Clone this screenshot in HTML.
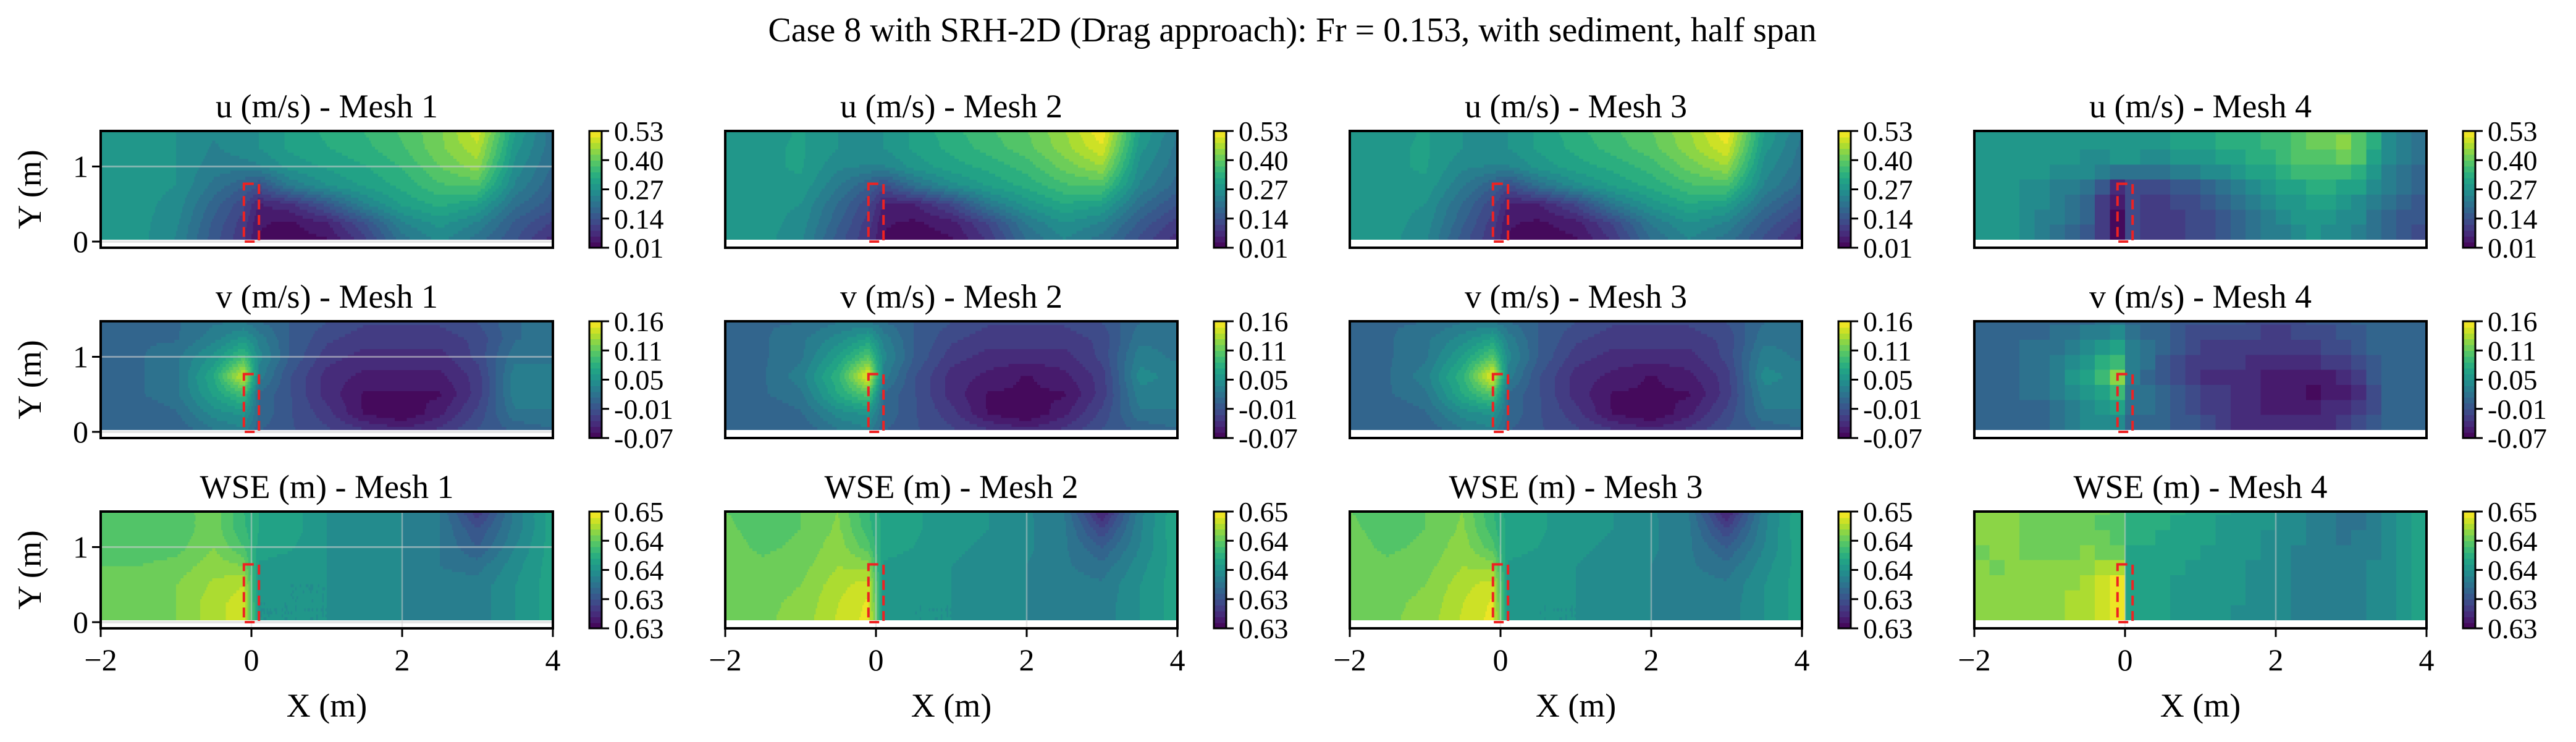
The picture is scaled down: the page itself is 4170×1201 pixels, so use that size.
<!DOCTYPE html>
<html><head><meta charset="utf-8">
<style>
html,body{margin:0;padding:0;background:#fff;}
svg{display:block;}
text{font-family:"Liberation Serif","DejaVu Serif",serif;fill:#000;}
</style></head>
<body>
<svg id="fig" width="4170" height="1201" viewBox="0 0 4170 1201" xmlns="http://www.w3.org/2000/svg">
<text x="2092" y="67" font-size="56" text-anchor="middle">Case 8 with SRH-2D (Drag approach): Fr = 0.153, with sediment, half span</text>
</svg>
<script>
// grid nodes (m): columns at these x, rows listed from y=1.5 down to y=0 step 0.25
const gridX = [-2,-1.5,-1,-0.5,-0.1,0.1,0.5,1,1.5,2,2.5,3,3.5,4];
const gridY = [1.5,1.25,1.0,0.75,0.5,0.25,0];
const uTicks = ["0.53","0.40","0.27","0.14","0.01"];
const vTicks = ["0.16","0.11","0.05","-0.01","-0.07"];
const wTicks = ["0.65","0.64","0.64","0.63","0.63"];
const uRange = [0.01,0.53];
const vRange = [-0.07,0.163];
const wRange = [0.628,0.648];
const xTickVals = [-2,0,2,4];
const xTickLabels = ["\u22122","0","2","4"];
const yTickVals = [0,1];
const meshNames = ["Mesh 1","Mesh 2","Mesh 3","Mesh 4"];

const u_mesh1 = [
[.28,.28,.27,.25,.26,.27,.30,.33,.35,.38,.42,.50,.30,.20],
[.28,.28,.27,.24,.26,.27,.30,.32,.34,.37,.42,.47,.28,.20],
[.28,.28,.27,.23,.23,.24,.28,.30,.32,.35,.40,.44,.26,.19],
[.28,.28,.27,.21,.17,.14,.22,.27,.30,.33,.37,.38,.24,.17],
[.28,.28,.26,.18,.12,.06,.08,.15,.24,.30,.33,.30,.20,.15],
[.28,.28,.25,.16,.10,.04,.03,.06,.14,.24,.28,.24,.16,.11],
[.28,.28,.24,.15,.09,.03,.02,.03,.10,.20,.25,.20,.14,.07]];
const u_mesh2 = [
[.28,.28,.30,.27,.26,.27,.30,.34,.37,.40,.45,.53,.30,.22],
[.28,.29,.30,.27,.26,.27,.30,.33,.36,.39,.44,.50,.28,.21],
[.28,.29,.30,.25,.24,.24,.28,.31,.33,.36,.41,.45,.26,.20],
[.28,.29,.29,.22,.17,.13,.20,.26,.30,.33,.37,.38,.24,.18],
[.28,.28,.27,.19,.12,.06,.06,.12,.22,.28,.32,.30,.20,.14],
[.28,.28,.26,.17,.10,.04,.03,.05,.12,.22,.27,.24,.16,.10],
[.28,.28,.25,.15,.09,.03,.02,.03,.09,.19,.24,.20,.13,.07]];
const u_mesh3 = [
[.28,.28,.30,.27,.26,.27,.30,.34,.37,.40,.45,.53,.30,.22],
[.28,.29,.30,.27,.26,.27,.30,.33,.36,.39,.44,.50,.28,.21],
[.28,.29,.30,.25,.24,.24,.28,.31,.33,.36,.41,.45,.26,.20],
[.28,.29,.29,.22,.17,.13,.20,.26,.30,.33,.37,.38,.24,.18],
[.28,.28,.27,.19,.12,.06,.06,.12,.22,.28,.32,.30,.20,.14],
[.28,.28,.26,.17,.10,.04,.03,.05,.12,.22,.27,.24,.16,.10],
[.28,.28,.25,.15,.09,.03,.02,.03,.09,.19,.24,.20,.13,.07]];
const u_mesh4 = [
[.28,.29,.29,.27,.29,.29,.29,.31,.33,.36,.40,.42,.26,.20],
[.28,.29,.29,.27,.29,.29,.29,.31,.33,.36,.40,.44,.26,.20],
[.28,.29,.28,.26,.25,.25,.24,.27,.30,.34,.38,.38,.25,.18],
[.28,.28,.25,.22,.08,.12,.12,.18,.24,.30,.34,.32,.22,.16],
[.28,.28,.24,.18,.03,.12,.10,.14,.20,.26,.30,.28,.20,.14],
[.28,.27,.23,.16,.03,.12,.10,.12,.18,.24,.28,.25,.18,.13],
[.28,.27,.22,.15,.03,.12,.10,.12,.17,.22,.26,.24,.17,.13]];

const v_mesh1 = [
[.01,.01,.01,.02,.02,.01,.00,-.01,-.02,-.02,-.02,-.01,.01,.02],
[.01,.01,.01,.03,.05,.03,.00,-.02,-.03,-.03,-.03,-.02,.01,.02],
[.01,.01,.02,.05,.09,.04,.00,-.03,-.04,-.04,-.04,-.02,.02,.02],
[.01,.01,.02,.07,.15,.03,-.01,-.04,-.05,-.05,-.05,-.03,.03,.03],
[.01,.01,.02,.06,.09,.01,-.01,-.04,-.06,-.06,-.06,-.03,.03,.03],
[.00,.00,.01,.04,.05,.01,-.01,-.03,-.06,-.07,-.05,-.02,.02,.02],
[.00,.00,.00,.02,.03,.00,-.01,-.02,-.03,-.04,-.03,-.01,.00,.01]];
const v_mesh2 = [
[.01,.01,.01,.02,.02,.01,.00,-.01,-.02,-.02,-.02,-.01,.01,.02],
[.01,.01,.02,.04,.06,.03,.00,-.02,-.03,-.03,-.03,-.02,.02,.02],
[.01,.01,.02,.06,.10,.04,.00,-.03,-.04,-.04,-.04,-.02,.03,.02],
[.01,.01,.03,.08,.16,.03,-.01,-.04,-.05,-.06,-.05,-.03,.04,.03],
[.01,.01,.02,.07,.10,.01,-.01,-.04,-.06,-.06,-.06,-.03,.03,.03],
[.00,.00,.01,.04,.05,.01,-.01,-.03,-.06,-.07,-.05,-.02,.02,.02],
[.00,.00,.00,.02,.03,.00,-.01,-.02,-.03,-.04,-.03,-.01,.00,.01]];
const v_mesh3 = [
[.01,.01,.01,.02,.02,.01,.00,-.01,-.02,-.02,-.02,-.01,.01,.02],
[.01,.01,.02,.04,.06,.03,.00,-.02,-.03,-.03,-.03,-.02,.02,.02],
[.01,.01,.02,.06,.10,.04,.00,-.03,-.04,-.04,-.04,-.02,.03,.02],
[.01,.01,.03,.08,.16,.03,-.01,-.04,-.05,-.06,-.05,-.03,.04,.03],
[.01,.01,.02,.07,.10,.01,-.01,-.04,-.06,-.06,-.06,-.03,.03,.03],
[.00,.00,.01,.04,.05,.01,-.01,-.03,-.06,-.07,-.05,-.02,.02,.02],
[.00,.00,.00,.02,.03,.00,-.01,-.02,-.03,-.04,-.03,-.01,.00,.01]];
const v_mesh4 = [
[.01,.01,.01,.01,.02,.01,.00,-.01,-.01,-.02,-.01,.00,.01,.01],
[.01,.01,.01,.03,.05,.02,.00,-.02,-.02,-.03,-.02,-.01,.01,.01],
[.01,.01,.02,.05,.08,.03,.00,-.03,-.03,-.04,-.03,-.02,.01,.01],
[.01,.01,.02,.07,.12,.03,-.01,-.04,-.04,-.05,-.05,-.04,.01,.01],
[.01,.01,.02,.05,.08,.02,.01,-.02,-.04,-.05,-.06,-.05,.00,.01],
[.00,.00,.01,.04,.05,.01,.01,-.02,-.04,-.05,-.05,-.03,.00,.01],
[.00,.00,.01,.03,.03,.01,.00,-.01,-.03,-.04,-.04,-.02,.00,.01]];

const w_mesh1 = [
[.6424,.6424,.6424,.6436,.6410,.6400,.6396,.6380,.6376,.6370,.6360,.6310,.6364,.6396],
[.6424,.6424,.6424,.6436,.6412,.6400,.6396,.6380,.6376,.6370,.6360,.6330,.6364,.6396],
[.6424,.6424,.6426,.6440,.6420,.6396,.6392,.6380,.6376,.6370,.6360,.6340,.6370,.6396],
[.6430,.6430,.6434,.6446,.6440,.6388,.6384,.6380,.6376,.6370,.6360,.6356,.6376,.6396],
[.6436,.6436,.6440,.6452,.6460,.6382,.6380,.6380,.6376,.6370,.6364,.6364,.6380,.6396],
[.6436,.6436,.6440,.6456,.6466,.6380,.6380,.6380,.6376,.6370,.6364,.6364,.6380,.6396],
[.6436,.6436,.6440,.6456,.6466,.6380,.6380,.6380,.6376,.6370,.6364,.6364,.6380,.6396]];
const w_mesh2 = [
[.6430,.6426,.6430,.6440,.6410,.6396,.6392,.6384,.6380,.6372,.6360,.6295,.6366,.6400],
[.6432,.6426,.6430,.6442,.6414,.6396,.6392,.6384,.6380,.6372,.6362,.6320,.6368,.6400],
[.6434,.6428,.6432,.6446,.6424,.6394,.6390,.6382,.6378,.6372,.6362,.6340,.6370,.6398],
[.6436,.6432,.6436,.6450,.6446,.6388,.6386,.6380,.6376,.6370,.6362,.6354,.6376,.6396],
[.6438,.6436,.6440,.6456,.6466,.6384,.6382,.6380,.6376,.6370,.6364,.6362,.6380,.6396],
[.6438,.6438,.6442,.6460,.6472,.6382,.6380,.6380,.6376,.6370,.6364,.6364,.6380,.6396],
[.6438,.6438,.6444,.6462,.6474,.6382,.6380,.6380,.6376,.6370,.6364,.6364,.6380,.6396]];
const w_mesh3 = [
[.6430,.6426,.6430,.6440,.6410,.6396,.6392,.6384,.6380,.6372,.6360,.6295,.6366,.6400],
[.6432,.6426,.6430,.6442,.6414,.6396,.6392,.6384,.6380,.6372,.6362,.6320,.6368,.6400],
[.6434,.6428,.6432,.6446,.6424,.6394,.6390,.6382,.6378,.6372,.6362,.6340,.6370,.6398],
[.6436,.6432,.6436,.6450,.6446,.6388,.6386,.6380,.6376,.6370,.6362,.6354,.6376,.6396],
[.6438,.6436,.6440,.6456,.6466,.6384,.6382,.6380,.6376,.6370,.6364,.6362,.6380,.6396],
[.6438,.6438,.6442,.6460,.6472,.6382,.6380,.6380,.6376,.6370,.6364,.6364,.6380,.6396],
[.6438,.6438,.6444,.6462,.6474,.6382,.6380,.6380,.6376,.6370,.6364,.6364,.6380,.6396]];
const w_mesh4 = [
[.6440,.6440,.6436,.6434,.6426,.6408,.6404,.6396,.6388,.6380,.6368,.6356,.6372,.6400],
[.6440,.6440,.6436,.6434,.6426,.6406,.6400,.6394,.6386,.6378,.6366,.6356,.6372,.6400],
[.6440,.6440,.6438,.6438,.6430,.6400,.6396,.6390,.6384,.6376,.6366,.6360,.6374,.6398],
[.6440,.6440,.6440,.6446,.6456,.6394,.6392,.6388,.6382,.6374,.6366,.6364,.6376,.6396],
[.6440,.6440,.6442,.6456,.6476,.6392,.6390,.6386,.6380,.6372,.6366,.6366,.6378,.6396],
[.6440,.6440,.6444,.6458,.6478,.6392,.6390,.6386,.6380,.6372,.6366,.6366,.6378,.6396],
[.6440,.6440,.6444,.6458,.6478,.6392,.6390,.6386,.6380,.6372,.6366,.6366,.6378,.6396]];

const NS = "http://www.w3.org/2000/svg";
const svg = document.getElementById('fig');
const colLeft = [163,1174,2185,3196];
const rowTop = [212,520,828];
const AW = 732, AH = 189;
const XMIN = -2, XMAX = 4, YMIN = -0.082, YMAX = 1.473;
const DATA_YMIN = 0.03;
const NLEV = 20;
const VIR = ["#440154","#482475","#414487","#355f8d","#2a788e","#21918c","#22a884","#44bf70","#7ad151","#bddf26","#fde725"];
function hex(c){return [parseInt(c.substr(1,2),16),parseInt(c.substr(3,2),16),parseInt(c.substr(5,2),16)];}
const VIRRGB = VIR.map(hex);
function viridis(t){t=Math.max(0,Math.min(1,t));const p=t*10;const i=Math.min(9,Math.floor(p));const f=p-i;const a=VIRRGB[i],b=VIRRGB[i+1];
 return "rgb("+Math.round(a[0]+(b[0]-a[0])*f)+","+Math.round(a[1]+(b[1]-a[1])*f)+","+Math.round(a[2]+(b[2]-a[2])*f)+")";}
const levelColors = [];
for(let k=0;k<NLEV;k++) levelColors.push(viridis((k+0.5)/NLEV));
function el(tag,attrs,parent){const e=document.createElementNS(NS,tag);for(const k in attrs)e.setAttribute(k,attrs[k]);(parent||svg).appendChild(e);return e;}
function sample(grid,x,y){
  x=Math.max(gridX[0],Math.min(gridX[gridX.length-1],x));
  let i=0; while(i<gridX.length-2 && x>gridX[i+1]) i++;
  const a=(x-gridX[i])/(gridX[i+1]-gridX[i]);
  let fy=(gridY[0]-y)/(gridY[0]-gridY[1]);fy=Math.max(0,Math.min(gridY.length-1.0001,fy));
  const j=Math.floor(fy),b=fy-j;
  return grid[j][i]*(1-a)*(1-b)+grid[j][i+1]*a*(1-b)+grid[j+1][i]*(1-a)*b+grid[j+1][i+1]*a*b;
}
function level(v,r){let k=Math.floor((v-r[0])/(r[1]-r[0])*NLEV);return Math.max(0,Math.min(NLEV-1,k));}

const panels = [
 {name:"u (m/s)",grids:[u_mesh1,u_mesh2,u_mesh3,u_mesh4],range:uRange,ticks:uTicks,key:"u"},
 {name:"v (m/s)",grids:[v_mesh1,v_mesh2,v_mesh3,v_mesh4],range:vRange,ticks:vTicks,key:"v"},
 {name:"WSE (m)",grids:[w_mesh1,w_mesh2,w_mesh3,w_mesh4],range:wRange,ticks:wTicks,key:"wse"}];

panels.forEach((P,r)=>{
  for(let c=0;c<4;c++){
    const L=colLeft[c],T=rowTop[r];
    const sx=x=>L+(x-XMIN)/(XMAX-XMIN)*AW;
    const sy=y=>T+(YMAX-y)/(YMAX-YMIN)*AH;
    const g=el('g',{});
    
    
    const cid='clip'+r+c;
    const cp=el('clipPath',{id:cid},g);
    el('rect',{x:L,y:T,width:AW,height:AH},cp);
    const field=el('g',{'clip-path':'url(#'+cid+')','shape-rendering':'crispEdges'},g);
    
    
    const grid=P.grids[c];
    if(c<3){
      const dx=0.02, dy=0.04;
      for(let y0=DATA_YMIN;y0<YMAX;y0+=dy){
        const yc=y0+dy/2;const py0=sy(Math.min(YMAX,y0+dy)),py1=sy(y0);
        let runStart=XMIN,runLev=-1;
        for(let x0=XMIN;x0<=XMAX+1e-9;x0+=dx){
          const lv= x0<XMAX-1e-9 ? level(sample(grid,x0+dx/2,yc),P.range) : -2;
          if(lv!==runLev){
            if(runLev>=0){
              const cell=el('rect',{x:sx(runStart).toFixed(1),y:(py0-0.6).toFixed(1),width:(sx(x0)-sx(runStart)+0.8).toFixed(1),height:(py1-py0+1.2).toFixed(1),fill:levelColors[runLev]},field);
              
              
            }
            runStart=x0;runLev=lv;
          }
        }
      }
    } else {
      const bs=0.2;
      for(let y0=DATA_YMIN;y0<YMAX;y0+=bs){
        for(let x0=XMIN;x0<XMAX-1e-9;x0+=bs){
          const lv=level(sample(grid,x0+bs/2,y0+bs/2),P.range);
          const cell=el('rect',{x:sx(x0).toFixed(1),y:(sy(Math.min(YMAX,y0+bs))-0.5).toFixed(1),width:(sx(x0+bs)-sx(x0)+0.8).toFixed(1),height:(sy(y0)-sy(Math.min(YMAX,y0+bs))+1).toFixed(1),fill:levelColors[lv]},field);
          
          
        }
      }
    }
    if(c===0){
      el('line',{x1:L,x2:L+AW,y1:sy(1),y2:sy(1),stroke:'#d0d0d0','stroke-opacity':0.55,'stroke-width':3},g);
      el('line',{x1:L,x2:L+AW,y1:sy(0),y2:sy(0),stroke:'#e6e6e6','stroke-width':4},g);
    }
    if(r===2){
      [0,2].forEach(xv=>el('line',{x1:sx(xv),x2:sx(xv),y1:T,y2:T+AH,stroke:'#d0d0d0','stroke-opacity':0.5,'stroke-width':2.5},g));
    }
    const pier=el('rect',{x:sx(-0.1),y:sy(0.77),width:sx(0.1)-sx(-0.1),height:sy(0)-sy(0.77),fill:'none',stroke:'#ee2222','stroke-width':4,'stroke-dasharray':'16,9'},g);
    
    
    const fr=el('rect',{x:L,y:T,width:AW,height:AH,fill:'none',stroke:'#000','stroke-width':4},g);
    
    
    const tt=el('text',{x:L+AW/2,y:T-22,'font-size':54,'text-anchor':'middle'},g);
    tt.textContent=P.name+' - '+meshNames[c];
    
    
    if(c===0){
      yTickVals.forEach(v=>{
        el('line',{x1:L-14,x2:L,y1:sy(v),y2:sy(v),stroke:'#000','stroke-width':3},g);
        const t=el('text',{x:L-20,y:sy(v)+17,'font-size':50,'text-anchor':'end'},g);
        t.textContent=String(v);
        
        
      });
      const yl=el('text',{x:0,y:0,'font-size':54,'text-anchor':'middle',transform:'translate(66,'+(T+AH/2)+') rotate(-90)'},g);
      yl.textContent='Y (m)';
      
      
    }
    if(r===2){
      xTickVals.forEach((v,i)=>{
        el('line',{x1:sx(v),x2:sx(v),y1:T+AH,y2:T+AH+14,stroke:'#000','stroke-width':3},g);
        const t=el('text',{x:sx(v),y:T+AH+68,'font-size':50,'text-anchor':'middle'},g);
        t.textContent=xTickLabels[i];
        
        
      });
      const xl=el('text',{x:L+AW/2,y:T+AH+143,'font-size':54,'text-anchor':'middle'},g);
      xl.textContent='X (m)';
      
      
    }
    const cbx=L+791,cbw=20;
    const cb=el('g',{'shape-rendering':'crispEdges'},g);
    
    
    for(let k=0;k<NLEV;k++){
      const y1=T+AH-(k+1)*AH/NLEV;
      el('rect',{x:cbx,y:y1.toFixed(1),width:cbw,height:(AH/NLEV+0.8).toFixed(1),fill:levelColors[k]},cb);
    }
    el('rect',{x:cbx,y:T,width:cbw,height:AH,fill:'none',stroke:'#000','stroke-width':3},g);
    P.ticks.forEach((lab,i)=>{
      const ty=T+i*AH/(P.ticks.length-1);
      el('line',{x1:cbx+cbw,x2:cbx+cbw+12,y1:ty,y2:ty,stroke:'#000','stroke-width':3},g);
      const t=el('text',{x:cbx+cbw+20,y:ty+16,'font-size':46},g);
      t.textContent=lab;
      
      
    });
  }
});
</script>
</body></html>
